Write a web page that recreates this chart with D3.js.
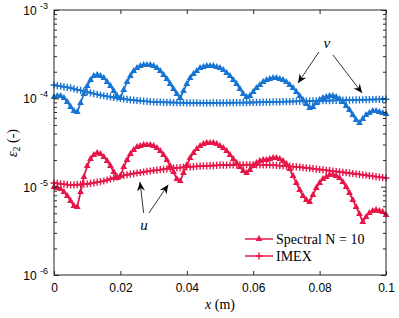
<!DOCTYPE html>
<html>
<head>
<meta charset="utf-8">
<script src="https://cdn.jsdelivr.net/npm/d3@7"></script>
<style>
  body { margin: 0; background: #fff; }
  text { fill: #000; }
</style>
</head>
<body>
<svg id="chart" width="399" height="318"></svg>
<script>
// x grid: 0 .. 0.1 m, step 1 mm
const xStep = 0.001;
const xTicks = [0, 0.02, 0.04, 0.06, 0.08, 0.1];
const yDecades = [1e-6, 1e-5, 1e-4, 1e-3];
const yLabels = ["-6", "-5", "-4", "-3"];

// v component, in units of 1e-4
const vSpectral = [1.035,1.063,1.063,1.009,0.909,0.798,0.719,0.700,0.885,1.119,
  1.379,1.612,1.788,1.836,1.788,1.698,1.530,1.379,1.210,1.063,
  1.009,1.242,1.530,1.788,2.038,2.203,2.321,2.382,2.382,2.382,
  2.321,2.203,2.038,1.836,1.654,1.452,1.275,1.119,1.009,1.210,
  1.452,1.698,1.885,2.038,2.203,2.261,2.321,2.321,2.321,2.261,
  2.203,2.091,1.934,1.788,1.612,1.452,1.275,1.119,1.035,1.063,
  1.179,1.309,1.415,1.530,1.612,1.654,1.698,1.698,1.654,1.612,
  1.530,1.415,1.309,1.179,1.063,0.957,0.863,0.777,0.798,0.885,
  0.957,1.009,1.035,1.063,1.063,1.035,0.983,0.909,0.819,0.738,
  0.648,0.569,0.526,0.584,0.648,0.683,0.719,0.719,0.700,0.683,0.665];
const vImex = [1.415,1.39,1.37,1.35,1.33,1.31,1.28,1.25,1.23,1.205,
  1.18,1.155,1.13,1.11,1.09,1.07,1.053,1.038,1.022,1.009,
  0.996,0.983,0.973,0.963,0.953,0.945,0.939,0.931,0.924,0.917,
  0.912,0.907,0.905,0.902,0.900,0.898,0.896,0.894,0.892,0.891,
  0.890,0.889,0.888,0.887,0.886,0.886,0.886,0.886,0.887,0.887,
  0.888,0.889,0.890,0.891,0.892,0.893,0.894,0.895,0.896,0.897,
  0.898,0.900,0.902,0.904,0.906,0.908,0.910,0.912,0.914,0.916,
  0.918,0.920,0.922,0.924,0.926,0.928,0.930,0.932,0.934,0.936,
  0.938,0.940,0.942,0.944,0.946,0.948,0.950,0.952,0.954,0.956,
  0.958,0.960,0.962,0.964,0.966,0.968,0.970,0.972,0.974,0.976,0.978];

// u component, in units of 1e-5
const uSpectral = [0.991,0.966,0.941,0.870,0.784,0.689,0.605,0.589,0.870,1.286,
  1.713,2.056,2.281,2.403,2.342,2.165,1.951,1.713,1.465,1.253,
  1.320,1.669,2.003,2.342,2.599,2.810,2.884,2.960,2.960,2.960,
  2.884,2.737,2.532,2.281,2.003,1.713,1.465,1.221,1.159,1.428,
  1.758,2.110,2.403,2.667,2.884,3.038,3.118,3.118,3.118,3.038,
  2.884,2.737,2.532,2.281,2.056,1.852,1.669,1.504,1.428,1.544,
  1.713,1.852,1.951,2.003,2.003,2.056,2.110,2.110,2.056,1.951,
  1.805,1.584,1.320,1.100,0.917,0.784,0.707,0.671,0.805,0.966,
  1.100,1.221,1.286,1.355,1.355,1.320,1.253,1.129,0.991,0.848,
  0.707,0.589,0.491,0.399,0.454,0.504,0.531,0.545,0.531,0.517,0.478];
const uImex = [1.100,1.090,1.078,1.066,1.055,1.044,1.046,1.052,1.060,1.066,
  1.072,1.088,1.105,1.123,1.141,1.159,1.190,1.222,1.255,1.288,
  1.320,1.342,1.364,1.385,1.407,1.428,1.447,1.466,1.486,1.505,
  1.524,1.540,1.556,1.573,1.589,1.605,1.618,1.631,1.643,1.656,
  1.669,1.678,1.687,1.695,1.704,1.713,1.720,1.727,1.735,1.742,
  1.749,1.753,1.756,1.760,1.763,1.767,1.768,1.769,1.770,1.771,
  1.772,1.769,1.766,1.764,1.761,1.758,1.749,1.740,1.731,1.722,
  1.713,1.700,1.687,1.673,1.660,1.647,1.630,1.614,1.597,1.581,
  1.564,1.548,1.532,1.516,1.500,1.484,1.469,1.454,1.439,1.424,
  1.409,1.393,1.378,1.362,1.347,1.331,1.315,1.299,1.284,1.268,1.253];

const blue = "#1874d2";
const red = "#e61648";

const svg = d3.select("#chart");
const x = d3.scaleLinear().domain([0, 0.1]).range([54, 386]);
const y = d3.scaleLog().domain([1e-6, 1e-3]).range([275, 10]);

const toPoints = (arr, unit) => arr.map((d, i) => ({x: i * xStep, y: d * unit}));

const series = [
  {pts: toPoints(vSpectral, 1e-4), color: blue, marker: "tri"},
  {pts: toPoints(vImex, 1e-4), color: blue, marker: "plus"},
  {pts: toPoints(uSpectral, 1e-5), color: red, marker: "tri"},
  {pts: toPoints(uImex, 1e-5), color: red, marker: "plus"}
];

const line = d3.line().x(d => x(d.x)).y(d => y(d.y));
const triPath = d3.symbol(d3.symbolTriangle).size(20)();
const plusPath = "M-3.5,0H3.5M0,-3.6V3.6";

function drawMarker(g, m, color) {
  if (m === "tri") {
    g.append("path").attr("d", triPath).attr("fill", color);
  } else {
    g.append("path").attr("d", plusPath).attr("stroke", color)
      .attr("stroke-width", 1.4).attr("fill", "none");
  }
}

const plot = svg.append("g");
series.forEach(s => {
  plot.append("path").datum(s.pts).attr("d", line)
    .attr("fill", "none").attr("stroke", s.color).attr("stroke-width", 1.8);
  s.pts.forEach(p => {
    const g = plot.append("g").attr("transform", `translate(${x(p.x)},${y(p.y)})`);
    drawMarker(g, s.marker, s.color);
  });
});

// axes, MATLAB style: ticks inside on all sides
const minor = [];
yDecades.slice(0, 3).forEach(d => { for (let k = 2; k < 10; k++) minor.push(d * k); });

const bottom = svg.append("g").attr("transform", "translate(0,275)")
  .call(d3.axisBottom(x).tickValues(xTicks).tickSize(-4).tickSizeOuter(0).tickPadding(8)
    .tickFormat(d => String(d)));
svg.append("g").attr("transform", "translate(0,10)")
  .call(d3.axisTop(x).tickValues(xTicks).tickSize(-4).tickSizeOuter(0).tickFormat(""));
svg.append("g").attr("transform", "translate(54,0)")
  .call(d3.axisLeft(y).tickValues(yDecades).tickSize(-5).tickSizeOuter(0).tickFormat(""));
svg.append("g").attr("transform", "translate(54,0)")
  .call(d3.axisLeft(y).tickValues(minor).tickSize(-3).tickSizeOuter(0).tickFormat(""));
svg.append("g").attr("transform", "translate(386,0)")
  .call(d3.axisRight(y).tickValues(yDecades).tickSize(-5).tickSizeOuter(0).tickFormat(""));
svg.append("g").attr("transform", "translate(386,0)")
  .call(d3.axisRight(y).tickValues(minor).tickSize(-3).tickSizeOuter(0).tickFormat(""));

svg.selectAll(".domain").remove();
svg.selectAll(".tick line").attr("stroke", "#262626");
bottom.selectAll("text").attr("font-family", "Liberation Sans, Arial, sans-serif")
  .attr("font-size", 12).attr("fill", "#262626");

svg.append("rect").attr("x", 54).attr("y", 10).attr("width", 332).attr("height", 265)
  .attr("fill", "none").attr("stroke", "#262626").attr("stroke-width", 1);

// y tick labels 10^n
yDecades.forEach((d, i) => {
  const t = svg.append("text").attr("x", 48).attr("y", y(d) + 5)
    .attr("text-anchor", "end").attr("font-family", "Liberation Sans, Arial, sans-serif")
    .attr("font-size", 12).attr("fill", "#262626");
  t.append("tspan").text("10 ");
  t.append("tspan").attr("dy", -6).attr("font-size", 9).text(yLabels[i]);
});

// axis labels
svg.append("text").attr("x", 220).attr("y", 309).attr("text-anchor", "middle")
  .attr("font-family", "Liberation Serif, serif").attr("font-size", 14)
  .call(t => {
    t.append("tspan").attr("font-style", "italic").text("x");
    t.append("tspan").text(" (m)");
  });

svg.append("text").attr("transform", "translate(17,143) rotate(-90)")
  .attr("text-anchor", "middle").attr("font-family", "Liberation Serif, serif").attr("font-size", 14)
  .call(t => {
    t.append("tspan").attr("font-style", "italic").text("ε");
    t.append("tspan").attr("font-size", 10).attr("dy", 3).text("2");
    t.append("tspan").attr("dy", -3).text(" (-)");
  });

// annotations
const defs = svg.append("defs");
defs.append("marker").attr("id", "head").attr("viewBox", "-10 -5 11 10")
  .attr("refX", 0).attr("refY", 0).attr("markerWidth", 11).attr("markerHeight", 10)
  .attr("markerUnits", "userSpaceOnUse").attr("orient", "auto")
  .append("path").attr("d", "M0,0L-9,-4L-6,0L-9,4Z").attr("fill", "#000");

const arrows = [
  {x1: 0.0798, y1: 3.35e-4, x2: 0.0735, y2: 1.49e-4},
  {x1: 0.0840, y1: 3.10e-4, x2: 0.0928, y2: 1.15e-4},
  {x1: 0.0270, y1: 5.04e-6, x2: 0.0259, y2: 1.13e-5},
  {x1: 0.0286, y1: 5.04e-6, x2: 0.0344, y2: 1.05e-5}
];
arrows.forEach(a => {
  svg.append("line").attr("x1", x(a.x1)).attr("y1", y(a.y1))
    .attr("x2", x(a.x2)).attr("y2", y(a.y2))
    .attr("stroke", "#000").attr("stroke-width", 0.8).attr("marker-end", "url(#head)");
});

const notes = [
  {x: 0.0822, y: 4.22e-4, t: "v"},
  {x: 0.0271, y: 3.68e-6, t: "u"}
];
notes.forEach(n => {
  svg.append("text").attr("x", x(n.x)).attr("y", y(n.y)).attr("dy", "0.3em")
    .attr("text-anchor", "middle").attr("font-family", "Liberation Serif, serif")
    .attr("font-style", "italic").attr("font-size", 15).text(n.t);
});

// legend
const legend = [
  {name: "Spectral N = 10", marker: "tri"},
  {name: "IMEX", marker: "plus"}
];
legend.forEach((l, i) => {
  const g = svg.append("g").attr("transform", `translate(245,${239 + i * 17})`);
  g.append("line").attr("x1", 0).attr("x2", 28).attr("stroke", red).attr("stroke-width", 1.5);
  drawMarker(g.append("g").attr("transform", "translate(14,0)"), l.marker, red);
  g.append("text").attr("x", 31).attr("y", 5).attr("font-family", "Liberation Serif, serif")
    .attr("font-size", 14).text(l.name);
});
</script>
</body>
</html>
